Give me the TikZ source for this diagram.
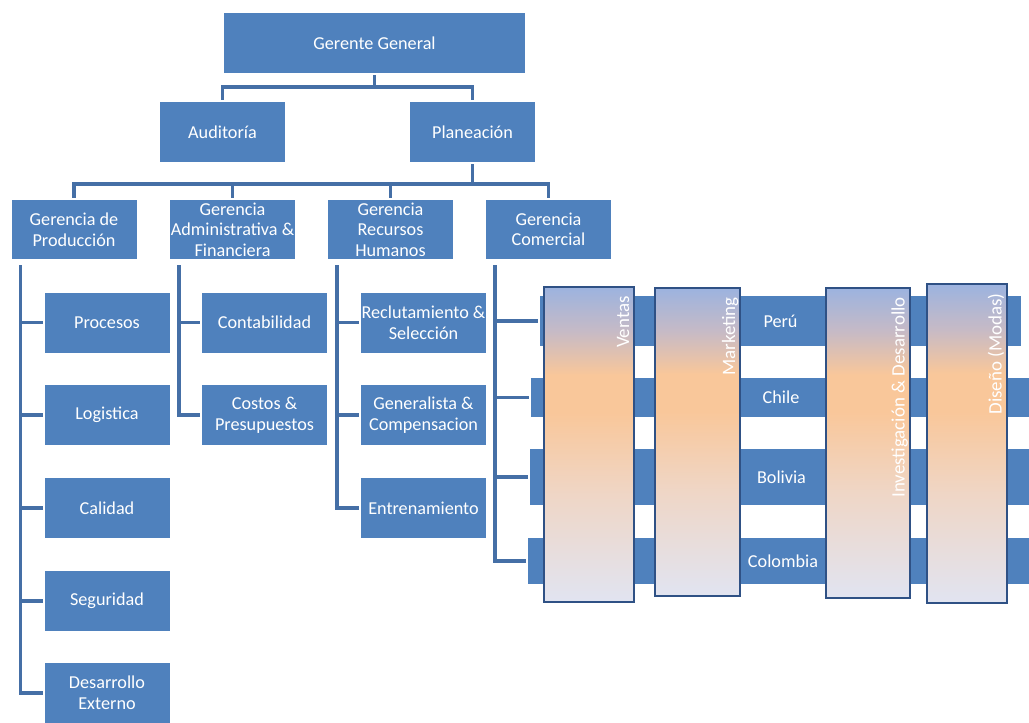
\documentclass[tikz,border=0pt]{standalone}
\usepackage{fontspec}
\setmainfont{Carlito}
\usetikzlibrary{calc}

\definecolor{boxblue}{HTML}{4F81BD}
\definecolor{linkblue}{HTML}{456FA6}
\definecolor{colborder}{HTML}{2F5185}
\definecolor{coltop}{HTML}{9CB3DF}
\definecolor{colmauve}{HTML}{C6BAC6}
\definecolor{colpeach}{HTML}{F9C79A}
\definecolor{colmid}{HTML}{EFD6C6}
\definecolor{colbot}{HTML}{E1E4F1}

% vertical blend for the functional columns: blue top, peach band, pale bottom
\pgfdeclareverticalshading{colshade}{100bp}{color(0bp)=(colbot); color(25bp)=(colbot); color(42bp)=(colmid); color(55bp)=(colpeach); color(61bp)=(colpeach); color(68bp)=(colmauve); color(75bp)=(coltop); color(100bp)=(coltop)}

\pgfdeclarelayer{bg}
\pgfsetlayers{bg,main}

\begin{document}
\begin{tikzpicture}[x=0.75pt,y=-0.75pt,
  font=\fontsize{13.65}{15.4}\selectfont,
  box/.style={rectangle, fill=boxblue, draw=white, line width=1.5pt, text=white, align=center, inner sep=0pt},
  sz/.style 2 args={minimum width=#1*0.75pt, minimum height=#2*0.75pt},
  link/.style={draw=linkblue, line width=2.4pt},
  bar/.style={rectangle, fill=boxblue, draw=white, line width=1.5pt, text=white, inner sep=0pt},
  column/.style={rectangle, shade, shading=colshade, draw=colborder, line width=1.5pt, inner sep=0pt},
  collabel/.style={rotate=90, anchor=base east, text=white, inner sep=0pt, font=\fontsize{14.2}{16}\selectfont}]

\useasboundingbox (0,0) rectangle (1029,722);

% top levels
\node[box, sz={303}{62}] (gg) at (374.5,43) {Gerente General};
\node[box, sz={127}{62}] (aud) at (222.5,132) {Auditoría};
\node[box, sz={127}{62}] (plan) at (472.5,132) {Planeación};

% management row
\node[box, sz={127}{61}] (gprod) at (74,229.5) {Gerencia de\\Producción};
\node[box, sz={127}{61}] (gadm) at (232.5,229.5) {Gerencia\\Administrativa \&\\Financiera};
\node[box, sz={127}{61}] (grh) at (390.5,229.5) {Gerencia\\Recursos\\Humanos};
\node[box, sz={127}{61}] (gcom) at (548.5,229.5) {Gerencia\\Comercial};

% production areas
\node[box, sz={127}{62}] (proc) at (107,322.5) {Procesos};
\node[box, sz={127}{62}] (logi) at (107,415) {Logistica};
\node[box, sz={127}{62}] (cali) at (107,508) {Calidad};
\node[box, sz={127}{62}] (segu) at (107,601) {Seguridad};
\node[box, sz={127}{62}] (dext) at (107,693) {Desarrollo\\Externo};

% administration areas
\node[box, sz={127}{62}] (cont) at (264.5,322.5) {Contabilidad};
\node[box, sz={127}{62}] (cost) at (264.5,415) {Costos \&\\Presupuestos};

% human resources areas
\node[box, sz={127}{62}] (recl) at (423.5,322.5) {Reclutamiento \&\\Selección};
\node[box, sz={127}{62}] (gene) at (423.5,415) {Generalista \&\\Compensacion};
\node[box, sz={127}{62}] (entr) at (423.5,508) {Entrenamiento};

% country rows of the commercial matrix
\node[bar, sz={483}{52}] (peru) at (780.5,321) {Perú};
\node[bar, sz={502}{41}] (chile) at (781,397.5) {Chile};
\node[bar, sz={505}{58}] (boli) at (781.5,477) {Bolivia};
\node[bar, sz={512}{48}] (colo) at (783,561) {Colombia};

% functional columns crossing the country rows
\node[column, sz={90}{315}] (ven) at (589,444.5) {};
\node[column, sz={85}{308}] (mkt) at (697.5,442) {};
\node[column, sz={84}{310}] (inv) at (867.5,443) {};
\node[column, sz={80}{319}] (dis) at (966.5,443.7) {};

\node[collabel] (venl) at ($(ven.north east)+(-6,10)$) {Ventas};
\node[collabel] (mktl) at ($(mkt.north east)+(-6,10)$) {Marketing};
\node[collabel] (invl) at ($(inv.north east)+(-6,10)$) {Investigación \& Desarrollo};
\node[collabel] (disl) at ($(dis.north east)+(-6,10)$) {Diseño (Modas)};

\begin{pgfonlayer}{bg}
  \fill[white] (0,0) rectangle (1029,722);

  \draw[link] (gg.south) -- ++(0,12) -| (aud.north);
  \draw[link] (gg.south) -- ++(0,12) -| (plan.north);

  \foreach \n in {gprod,gadm,grh,gcom}
    \draw[link] (plan.south) -- ++(0,20) -| (\n.north);

  % trunks hanging from each management box
  \coordinate (tp) at ($(gprod.south west)+(11,4)$);
  \coordinate (ta) at ($(gadm.south west)+(11,4)$);
  \coordinate (tr) at ($(grh.south west)+(11,4)$);
  \coordinate (tc) at ($(gcom.south west)+(11,4)$);

  \draw[link] (tp) |- (dext.west);
  \foreach \n in {proc,logi,cali,segu}
    \draw[link] (tp |- \n.west) -- (\n.west);

  \draw[link] (ta) |- (cost.west);
  \draw[link] (ta |- cont.west) -- (cont.west);

  \draw[link] (tr) |- (entr.west);
  \foreach \n in {recl,gene}
    \draw[link] (tr |- \n.west) -- (\n.west);

  \draw[link] (tc) |- (colo.west);
  \foreach \n in {peru,chile,boli}
    \draw[link] (tc |- \n.west) -- (\n.west);
\end{pgfonlayer}
\end{tikzpicture}
\end{document}
